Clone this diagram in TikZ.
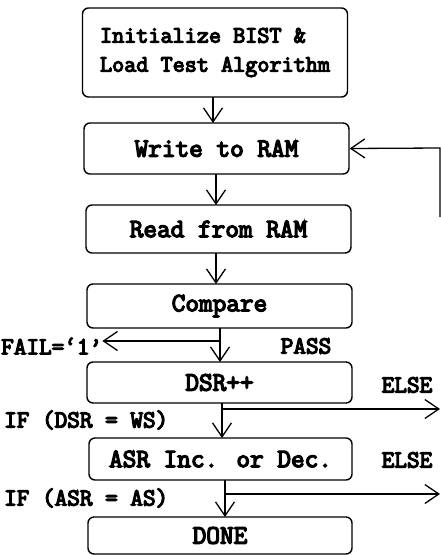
\documentclass[tikz,border=0pt]{standalone}
\usepackage{fontspec}
\newfontfamily\flowfont[FakeBold=5]{Latin Modern Mono}
\usetikzlibrary{arrows.meta}
\begin{document}
\begin{tikzpicture}[
    x=1pt, y=-1pt,
    every node/.style={font=\flowfont\fontsize{24.5}{29}\selectfont},
    block/.style={rectangle, rounded corners=6pt, draw=black, line width=1.4pt,
        minimum width=265pt, inner sep=0pt, align=left,
        font=\flowfont\fontsize{26.5}{29}\selectfont},
    lbl/.style={inner sep=0pt},
    flow/.style={draw=black, line width=1.3pt,
        -{Straight Barb[length=14pt,width=19pt,line width=1.3pt]}},
]
\useasboundingbox (0,0) rectangle (441,555);
\node[block, minimum height=89pt, font=\flowfont\fontsize{23.5}{29}\selectfont]
    (init) at (215,52.5) {Initialize BIST \&\\Load Test Algorithm};
\node[block, minimum height=51pt] (write) at (216.5,148.5) {Write to RAM};
\node[block, minimum height=48pt] (read) at (218.5,229) {Read from RAM};
\node[block, minimum height=44pt] (compare) at (219.5,306) {Compare};
\node[block, minimum height=41pt] (dsr) at (219.5,382.5) {DSR++};
\node[block, minimum height=42pt, minimum width=263pt] (asr) at (220.5,459) {ASR Inc. or Dec.};
\node[block, minimum height=37pt, minimum width=264pt] (done) at (220,535.5) {DONE};

\node[lbl, anchor=west] (fail) at (1,346) {FAIL=‘1’};
\node[lbl] (pass) at (306,346) {PASS};
\node[lbl] (else1) at (407,385) {ELSE};
\node[lbl] (else2) at (407,460) {ELSE};
\node[lbl, anchor=west] (ifdsr) at (4,420) {IF (DSR = WS)};
\node[lbl, anchor=west] (ifasr) at (4,498) {IF (ASR = AS)};

\coordinate (cmpout) at (220,341);
\coordinate (dsrout) at (222,409);
\coordinate (asrout) at (225,494);
\coordinate (elseend1) at (440,409);
\coordinate (elseend2) at (440,494);
\coordinate (loopend) at (440,217);
\coordinate (loopturn) at (440,148);

\draw[flow] (213,97) -- (213,123);
\draw[flow] (216,174) -- (216,205);
\draw[flow] (216,253) -- (216,284);
\draw[flow] (220,328) -- (220,362);
\draw[flow] (cmpout) -- (fail.east |- cmpout);
\draw[flow] (222,403) -- (222,438);
\draw[flow] (dsrout) -- (elseend1);
\draw[flow] (225,480) -- (225,517);
\draw[flow] (asrout) -- (elseend2);
\draw[flow] (loopend) -- (loopturn) -- (write.east);
\end{tikzpicture}
\end{document}
